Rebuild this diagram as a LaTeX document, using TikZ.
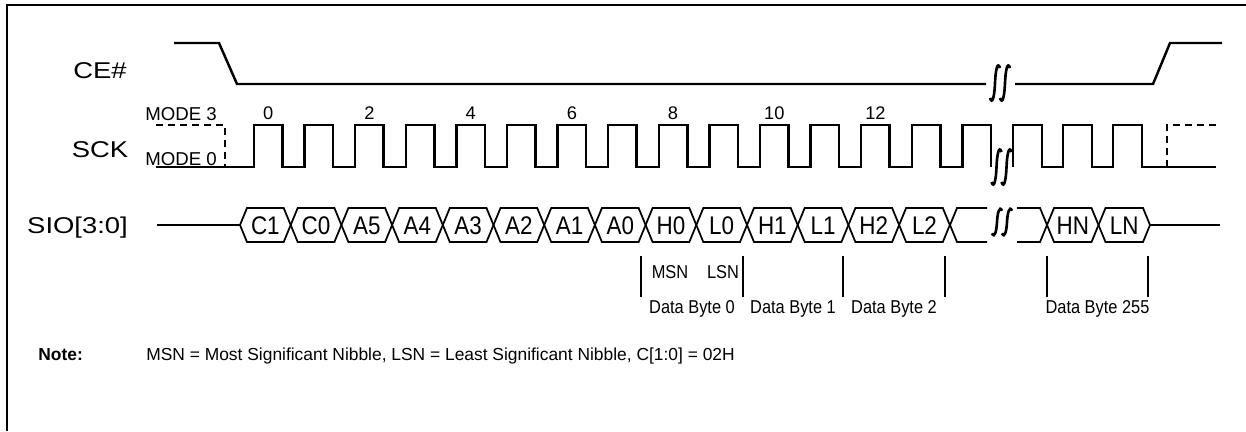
\documentclass[tikz,border=0pt]{standalone}
\usepackage{fontspec}
\setmainfont{Liberation Sans}
\newfontfamily\widefont[FakeStretch=1.2]{Liberation Sans}
\newfontfamily\narrowfont[FakeStretch=0.88]{Liberation Sans}

\begin{document}
\begin{tikzpicture}
            \tikzset{
              sig/.style={line width=1.4pt},
              bus/.style={line width=1pt},
              tick/.style={line width=0.7pt},
              dashsig/.style={sig, dash pattern=on 4pt off 2.8pt},
              signame/.style={font=\widefont\fontsize{13}{15}\selectfont, anchor=base},
              modelbl/.style={font=\fontsize{10.6}{12}\selectfont, anchor=base},
              cyclbl/.style={font=\fontsize{10.4}{12}\selectfont, anchor=base},
              buslbl/.style={font=\narrowfont\fontsize{14.5}{16}\selectfont, anchor=base},
              bytelbl/.style={font=\narrowfont\fontsize{10.6}{12}\selectfont, anchor=base},
              notelbl/.style={font=\fontsize{9.9}{12}\selectfont, anchor=base west, inner xsep=0pt},
              breakmark/.pic={
                \foreach \dx in {-0.1,0.1}
                  \draw[line width=1.5pt] (\dx-0.1,-0.3) .. controls (\dx-0.05,-0.45) and (\dx-0.01,-0.25) .. (\dx,0)
                    .. controls (\dx+0.01,0.25) and (\dx+0.05,0.45) .. (\dx+0.1,0.3);
              }
            }
            \useasboundingbox (0,0) rectangle (24.92,-8.62);

            \draw[line width=1.6pt] (0.14,-8.62) -- (0.14,-0.1) -- (24.92,-0.1);

            % CE#
            \node[signame] (ce) at (2.0,-1.56) {CE\#};
            \draw[sig] (3.48,-0.86) -- (4.38,-0.86) -- (4.74,-1.68) -- (19.72,-1.68);
            \draw[sig] (20.3,-1.68) -- (23.06,-1.68) -- (23.4,-0.86) -- (24.44,-0.86);
            \pic at (20.0,-1.66) {breakmark};

            % SCK
            \node[signame] (sck) at (2.0,-3.14) {SCK};
            \node[modelbl] (mode3) at (3.62,-2.4) {MODE 3};
            \node[modelbl] (mode0) at (3.62,-3.3) {MODE 0};
            \draw[dashsig] (3.12,-2.5) -- (4.5,-2.5) -- (4.5,-3.34);
            \draw[sig] (3.12,-3.34) -- (5.08,-3.34)
              \foreach \n in {0,...,13} { -- ++(0,0.84) -- ++(0.57,0) -- ++(0,-0.84) -- ++(0.442,0) }
              -- ++(0,0.84) -- ++(0.57,0) -- ++(0,-0.84);
            \draw[sig] (20.26,-3.34) -- ++(0,0.84)
              \foreach \n in {1,2} { -- ++(0.58,0) -- ++(0,-0.84) -- ++(0.42,0) -- ++(0,0.84) }
              -- ++(0.58,0) -- ++(0,-0.84) -- (24.32,-3.34);
            \draw[dashsig] (23.34,-3.34) -- (23.34,-2.5) -- (24.32,-2.5);
            \pic at (20.03,-3.34) {breakmark};
            \foreach \n in {0,2,...,12}
              \node[cyclbl] (cyc\n) at ({5.365+1.012*\n},-2.39) {\n};

            % SIO[3:0]
            \node[signame] (sio) at (1.55,-4.66) {SIO[3:0]};
            \draw[bus] (3.14,-4.5) -- (4.8,-4.5);
            \foreach \lab [count=\k from 0] in {C1,C0,A5,A4,A3,A2,A1,A0,H0,L0,H1,L1,H2,L2} {
              \draw[bus] ({4.8+1.014*\k},-4.5) -- ++(0.14,0.34) -- ++(0.734,0) -- ++(0.14,-0.34)
                -- ++(-0.14,-0.34) -- ++(-0.734,0) -- cycle;
              \node[buslbl] (d\k) at ({5.307+1.014*\k},-4.68) {\lab};
            }
            \draw[bus] (19.74,-4.16) -- (19.14,-4.16) -- (19.0,-4.5) -- (19.14,-4.84) -- (19.74,-4.84);
            \draw[bus] (20.34,-4.16) -- (20.8,-4.16) -- (20.94,-4.5) -- (20.8,-4.84) -- (20.34,-4.84);
            \foreach \lab [count=\k from 0] in {HN,LN} {
              \draw[bus] ({20.94+1.03*\k},-4.5) -- ++(0.14,0.34) -- ++(0.75,0) -- ++(0.14,-0.34)
                -- ++(-0.14,-0.34) -- ++(-0.75,0) -- cycle;
              \node[buslbl] (e\k) at ({21.455+1.03*\k},-4.68) {\lab};
            }
            \draw[bus] (23.0,-4.5) -- (24.4,-4.5);
            \pic[yscale=0.75] at (20.04,-4.44) {breakmark};

            % byte markers
            \foreach \x in {12.82,14.86,16.86,18.9,20.94,22.96}
              \draw[tick] (\x,-5.12) -- (\x,-5.94);
            \node[bytelbl] (msn) at (13.4,-5.56) {MSN};
            \node[bytelbl] (lsn) at (14.46,-5.56) {LSN};
            \node[bytelbl] (byte0) at (13.84,-6.26) {Data Byte 0};
            \node[bytelbl] (byte1) at (15.86,-6.26) {Data Byte 1};
            \node[bytelbl] (byte2) at (17.88,-6.26) {Data Byte 2};
            \node[bytelbl] (byte255) at (21.95,-6.26) {Data Byte 255};

            % note
            \node[notelbl, font=\fontsize{9.9}{12}\selectfont\bfseries] (notehead) at (0.76,-7.2) {Note:};
            \node[notelbl] (notetext) at (2.92,-7.2) {MSN = Most Significant Nibble, LSN = Least Significant Nibble, C[1:0] = 02H};

          \end{tikzpicture}
\end{document}
